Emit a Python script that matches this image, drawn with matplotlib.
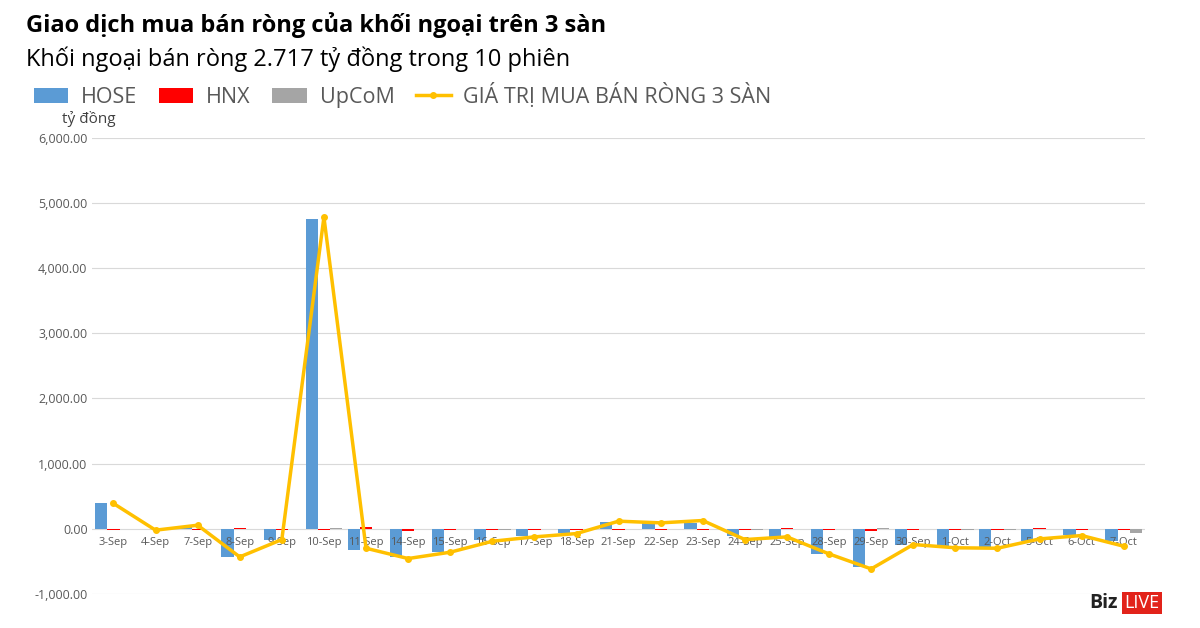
import matplotlib.pyplot as plt
import numpy as np

plt.rcParams['font.family'] = ['Open Sans', 'DejaVu Sans']

days = ['3-Sep', '4-Sep', '7-Sep', '8-Sep', '9-Sep', '10-Sep', '11-Sep', '14-Sep', '15-Sep',
        '16-Sep', '17-Sep', '18-Sep', '21-Sep', '22-Sep', '23-Sep', '24-Sep', '25-Sep', '28-Sep',
        '29-Sep', '30-Sep', '1-Oct', '2-Oct', '5-Oct', '6-Oct', '7-Oct']
hose = [390, -5, 46, -430, -175, 4750, -317, -430, -358, -164, -102, -66, 107,
        90, 90, -113, -128, -384, -589, -250, -276, -276, -180, -97, -190]
hnx = [-10, -5, -10, 10, -10, -10, 30, -30, -10, -10, -25, -10, -15,
       -15, -10, -20, 10, -10, -40, -10, -10, -10, 10, -10, -10]
upcom = [-5, -5, -5, -5, -5, 15, -5, -5, -5, -15, -5, -5, -5,
         -5, -5, -10, -5, -5, 15, -5, -10, -10, -5, -5, -61]
total = [390, -20, 56, -430, -164, 4780, -297, -455, -358, -190, -123, -72, 118,
         92, 128, -164, -123, -384, -614, -240, -290, -297, -154, -102, -266]

fig = plt.figure(figsize=(12, 6.28), dpi=100)
ax = fig.add_axes([0.077, 0.054, 0.877, 0.727])

x = np.arange(len(days))
w = 0.29
b1 = ax.bar(x - w, hose, w, color='#5b9bd5', label='HOSE', zorder=2)
b2 = ax.bar(x, hnx, w, color='#ff0000', label='HNX', zorder=2)
b3 = ax.bar(x + w, upcom, w, color='#a5a5a5', label='UpCoM', zorder=2)
l1, = ax.plot(x, total, color='#ffc000', lw=2.5, marker='o', ms=4, label='GIÁ TRỊ MUA BÁN RÒNG 3 SÀN', zorder=4)

ax.set_ylim(-1000, 6000)
ax.set_xlim(-0.5, len(days) - 0.5)
ax.set_yticks(range(-1000, 6001, 1000))
ax.set_yticklabels([f'{v:,.2f}' for v in range(-1000, 6001, 1000)], fontsize=9, color='#595959')
ax.grid(axis='y', color='#d9d9d9', lw=0.8, zorder=0)
for s in ax.spines.values():
    s.set_visible(False)
ax.spines['bottom'].set_position(('data', 0))
ax.set_xticks(x)
ax.set_xticklabels(days, fontsize=8, color='#595959')
ax.xaxis.set_zorder(3)
ax.tick_params(length=0)
ax.tick_params(axis='x', pad=6)

fig.text(0.022, 0.96, 'Giao dịch mua bán ròng của khối ngoại trên 3 sàn', fontsize=17, fontweight='bold', va='center')
fig.text(0.022, 0.905, 'Khối ngoại bán ròng 2.717 tỷ đồng trong 10 phiên', fontsize=17, va='center')
fig.text(0.052, 0.81, 'tỷ đồng', fontsize=11, color='#404040', va='center')
fig.legend([b1, b2, b3, l1], ['HOSE', 'HNX', 'UpCoM', 'GIÁ TRỊ MUA BÁN RÒNG 3 SÀN'],
           loc='center left', bbox_to_anchor=(0.012, 0.848), ncol=4, frameon=False, fontsize=15.5,
           handlelength=1.6, handletextpad=0.6, columnspacing=1.0, labelcolor='#595959')
fig.text(0.908, 0.04, 'Biz', fontsize=14, fontweight='bold', color='#222222', va='center')
fig.text(0.937, 0.04, 'LIVE', fontsize=13, color='white', va='center',
         bbox=dict(facecolor='#e2231a', edgecolor='none', pad=1.5))

fig.savefig('out.png')
